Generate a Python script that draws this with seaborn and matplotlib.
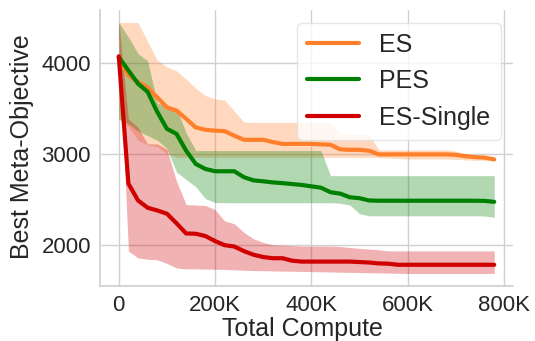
import matplotlib
matplotlib.use("Agg")
import matplotlib.pyplot as plt
from matplotlib.ticker import FixedLocator
import seaborn as sns
import pandas as pd

compute = [0, 20000, 40000, 60000, 80000, 100000, 120000, 140000, 160000, 180000,
           200000, 220000, 240000, 260000, 280000, 300000, 320000, 340000, 360000, 380000,
           400000, 420000, 440000, 460000, 480000, 500000, 520000, 540000, 560000, 580000,
           600000, 620000, 640000, 660000, 680000, 700000, 720000, 740000, 760000, 780000]

es_mean = [4060, 3860, 3790, 3725, 3620, 3510, 3475, 3385, 3290, 3265,
           3255, 3250, 3200, 3155, 3155, 3155, 3130, 3110, 3110, 3110,
           3110, 3105, 3100, 3050, 3045, 3045, 3035, 2995, 2995, 2995,
           2995, 2995, 2995, 2995, 2995, 2990, 2975, 2965, 2960, 2940]
es_low = [3385, 3300, 3150, 3100, 3080, 3000, 2963, 2963, 2963, 2963,
          2963, 2963, 2963, 2963, 2963, 2963, 2963, 2963, 2963, 2963,
          2963, 2963, 2963, 2963, 2963, 2963, 2963, 2960, 2955, 2950,
          2945, 2945, 2945, 2945, 2945, 2940, 2935, 2930, 2930, 2925]
es_high = [4440, 4440, 4440, 4230, 4025, 3955, 3910, 3820, 3720, 3640,
           3605, 3590, 3470, 3350, 3345, 3345, 3345, 3345, 3345, 3345,
           3345, 3345, 3345, 3215, 3215, 3215, 3215, 3045, 3045, 3045,
           3045, 3045, 3045, 3045, 3045, 3030, 3000, 2985, 2975, 2960]

pes_mean = [4060, 3915, 3770, 3680, 3460, 3275, 3220, 3035, 2890, 2835,
            2810, 2810, 2810, 2745, 2710, 2700, 2688, 2680, 2670, 2660,
            2645, 2630, 2580, 2565, 2525, 2515, 2490, 2487, 2487, 2487,
            2487, 2487, 2487, 2487, 2487, 2487, 2487, 2487, 2485, 2475]
pes_low = [3385, 3330, 3250, 3200, 3150, 3060, 2800, 2720, 2640, 2510,
           2468, 2465, 2465, 2465, 2465, 2465, 2465, 2465, 2465, 2465,
           2465, 2465, 2465, 2460, 2440, 2345, 2322, 2322, 2322, 2322,
           2322, 2322, 2322, 2322, 2322, 2322, 2322, 2322, 2320, 2305]
pes_high = [4440, 4280, 4100, 4020, 3560, 3520, 3500, 3230, 3037, 3037,
            3037, 3037, 3037, 3037, 3037, 3037, 3037, 3037, 3037, 3037,
            3037, 3037, 2762, 2762, 2762, 2762, 2762, 2762, 2762, 2762,
            2762, 2762, 2762, 2762, 2762, 2762, 2762, 2762, 2762, 2762]

single_mean = [4070, 2675, 2490, 2410, 2380, 2345, 2240, 2128, 2125, 2100,
               2045, 2000, 1985, 1935, 1895, 1870, 1857, 1857, 1830, 1820,
               1820, 1820, 1820, 1820, 1820, 1815, 1810, 1800, 1797, 1785,
               1785, 1785, 1785, 1785, 1785, 1785, 1785, 1785, 1785, 1785]
single_low = [4300, 1935, 1860, 1845, 1840, 1800, 1750, 1740, 1740, 1738,
              1736, 1734, 1730, 1726, 1722, 1720, 1718, 1716, 1714, 1712,
              1710, 1708, 1706, 1704, 1702, 1700, 1698, 1696, 1694, 1692,
              1690, 1690, 1690, 1690, 1690, 1690, 1690, 1690, 1690, 1690]
single_high = [4440, 3385, 3290, 3110, 3110, 3050, 2700, 2445, 2440, 2435,
               2390, 2265, 2235, 2140, 2070, 2030, 2005, 2000, 1995, 1990,
               1990, 1990, 1990, 1985, 1975, 1965, 1957, 1950, 1937, 1937,
               1937, 1937, 1937, 1937, 1937, 1937, 1937, 1937, 1937, 1937]

labels = ["ES", "PES", "ES-Single"]
colors = ["#ff7f2a", "#008000", "#d00000"]
x_ticks = [0, 200000, 400000, 600000, 800000]
x_ticklabels = ["0", "200K", "400K", "600K", "800K"]
y_ticks = [2000, 3000, 4000]

sns.set_theme(style="whitegrid")
plt.rcParams["font.family"] = ["Liberation Sans", "DejaVu Sans"]
plt.rcParams["text.color"] = "#262626"

fig = plt.figure(figsize=(5.35, 3.41), dpi=100)
ax = fig.add_axes([100 / 535, 1 - 286 / 341, 413 / 535, 276 / 341])

means = [es_mean, pes_mean, single_mean]
lows = [es_low, pes_low, single_low]
highs = [es_high, pes_high, single_high]

for lo, hi, c in zip(lows, highs, colors):
    ax.fill_between(compute, lo, hi, color=c, alpha=0.3, linewidth=0, zorder=1)

frames = []
for lab, m in zip(labels, means):
    frames.append(pd.DataFrame({"compute": compute, "value": m, "method": lab}))
df = pd.concat(frames, ignore_index=True)

sns.lineplot(data=df, x="compute", y="value", hue="method", hue_order=labels,
             palette=colors, linewidth=3, ax=ax, zorder=3, errorbar=None)

ax.xaxis.set_major_locator(FixedLocator(x_ticks))
ax.set_xticklabels(x_ticklabels)
ax.yaxis.set_major_locator(FixedLocator(y_ticks))
ax.tick_params(axis="both", labelsize=16, colors="#262626", length=0, pad=6.5)
ax.set_xlabel("Total Compute", fontsize=18)
ax.set_ylabel("Best Meta-Objective", fontsize=18)
ax.xaxis.set_label_coords(0.49, -0.113)
ax.yaxis.set_label_coords(-0.161, 0.505)
sns.despine(ax=ax)
for s in ax.spines.values():
    s.set_color("#d0d0d0")
ax.grid(color="#d0d0d0", linewidth=1)

leg = ax.legend(loc="upper right", fontsize=18, handlelength=2.1, frameon=True)
leg.get_frame().set_edgecolor("#e0e0e0")
for t in leg.get_texts():
    t.set_color("#262626")

fig.savefig("out.png", dpi=100)
